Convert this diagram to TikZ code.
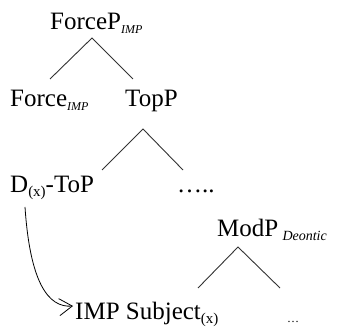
\documentclass[tikz,border=0pt]{standalone}
\usepackage{fontspec}
\setmainfont{Liberation Serif}
\usetikzlibrary{positioning, arrows.meta}

% lowered subscripts in a fixed size
\newcommand{\catsub}[2]{\raisebox{-3.5pt}{\fontsize{#1}{#1}\selectfont #2}}

\begin{document}
\begin{tikzpicture}[x=1pt, y=1pt, thin,
        cat/.style ={inner sep=0pt, anchor=base west, font=\fontsize{25}{25}\selectfont},
        branch/.style ={black!80, line width=0.9pt}]

        \useasboundingbox (0,0) rectangle (342,326);

        %\node [estilo] (nombre) at (base izquierda) {texto};

        \node[cat] (forcep) at (50, 296) {ForceP\catsub{12}{\textit{IMP}}};

        \node[cat] (force) at (10, 219) {Force\catsub{12}{\textit{IMP}}};
        \node[cat] (topp) at (125, 219) {TopP};

        \node[cat] (dtop) at (10, 133) {D\catsub{15}{(x)}-ToP};
        \node[cat] (dots) at (177, 133) {…..};

        \node[cat] (modp) at (217, 89) {ModP\,\catsub{14}{\textit{Deontic}}};

        \node[cat] (imp) at (75, 6) {IMP Subject\catsub{15}{(x)}};
        \node[cat, font=\fontsize{12}{12}\selectfont] (dots2) at (287, 4) {…};

        %%--------------------------ramas----------------------

        \draw[branch] ([shift={(40,28)}]force.base west) -- ([shift={(42,-8)}]forcep.base west)
                      -- ([shift={(8,28)}]topp.base west);

        \draw[branch] ([shift={(92,23)}]dtop.base west) -- ([shift={(18,-22)}]topp.base west)
                      -- ([shift={(6,23)}]dots.base west);

        \draw[branch] ([shift={(123,32)}]imp.base west) -- ([shift={(21,-10)}]modp.base west)
                      -- ([shift={(-7,34)}]dots2.base west);

        %movimiento del sujeto
        \draw[line width=0.8pt, -{Straight Barb[length=13pt, width=17pt]}]
            ([shift={(15,-14)}]dtop.base west) .. controls +(5,-75) and +(-25,-2) ..
            ([shift={(-2,14)}]imp.base west);

\end{tikzpicture}
\end{document}
